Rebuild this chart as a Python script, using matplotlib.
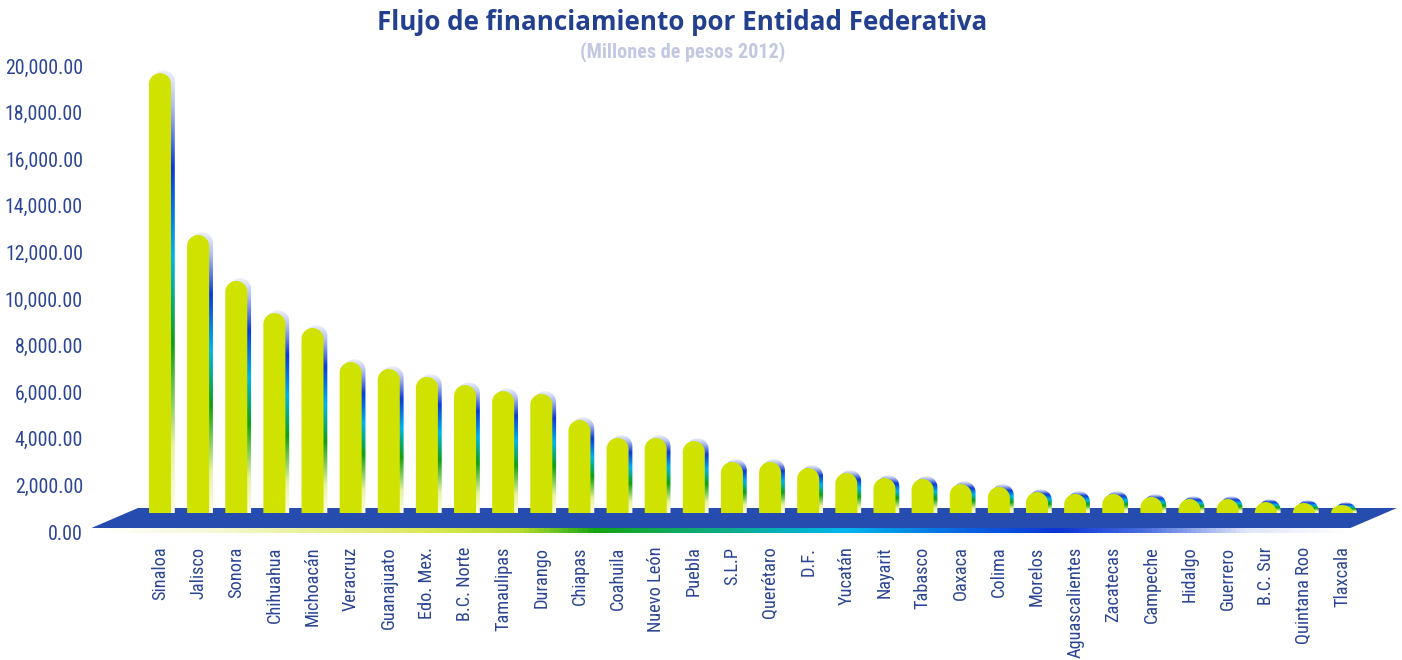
import matplotlib
matplotlib.use("Agg")
import matplotlib.pyplot as plt
import numpy as np
from matplotlib import font_manager
from matplotlib.colors import LinearSegmentedColormap
from matplotlib.patches import Polygon

# ============================================
# DATOS
# ============================================

estados = ["Sinaloa", "Jalisco", "Sonora", "Chihuahua", "Michoacán", "Veracruz",
           "Guanajuato", "Edo. Mex.", "B.C. Norte", "Tamaulipas", "Durango",
           "Chiapas", "Coahuila", "Nuevo León", "Puebla", "S.L.P", "Querétaro",
           "D.F.", "Yucatán", "Nayarit", "Tabasco", "Oaxaca", "Colima", "Morelos",
           "Aguascalientes", "Zacatecas", "Campeche", "Hidalgo", "Guerrero",
           "B.C. Sur", "Quintana Roo", "Tlaxcala"]

flujo = [18880, 11930, 9960, 8580, 7940, 6480, 6180, 5840, 5490, 5230, 5110,
         3990, 3220, 3220, 3090, 2190, 2190, 1930, 1720, 1500, 1460, 1240,
         1120, 900, 820, 820, 690, 600, 600, 470, 430, 340]

y_ticks = np.arange(0, 20001, 2000)

# ============================================
# ESTILO
# ============================================

available = {f.name for f in font_manager.fontManager.ttflist}


def pick(*names):
    for n in names:
        if n in available:
            return n
    return "DejaVu Sans"


narrow = pick("Liberation Sans Narrow", "Roboto Condensed", "DejaVu Sans")
title_font = pick("Open Sans", "Noto Sans", "Liberation Sans", "DejaVu Sans")

azul_texto = "#2b4594"
verde_barra = "#d0e300"
azul_piso = "#264caf"

side_cmap = LinearSegmentedColormap.from_list("lado", [
    (0.00, "#eef1fa"), (0.08, "#aebcec"), (0.22, "#0a3ad8"),
    (0.42, "#00b4ec"), (0.62, "#12a012"), (0.85, "#e6f3a0"), (1.00, "#fbfde4")])

strip_cmap = LinearSegmentedColormap.from_list("franja", [
    (0.00, "#ffffff"), (0.09, "#f6f9d8"), (0.26, "#dde95a"), (0.34, "#b8dc30"),
    (0.40, "#14a514"), (0.48, "#10aa70"), (0.60, "#00b6ee"), (0.70, "#0a60e0"),
    (0.77, "#0a34d4"), (0.84, "#4a6ee0"), (0.92, "#dfe5f8"), (1.00, "#ffffff")])

paso = 38.13        # px entre barras
base = 815          # altura del piso bajo las barras (profundidad 3D)
ancho = 0.577
cap = 472           # radio del tope redondeado en unidades de valor
dx, dy = 0.1, 120   # desplazamiento de la cara lateral
floor_back, floor_front = 1030, 172
sesgo = 1.22        # inclinacion del piso

# ============================================
# FIGURA
# ============================================

fig = plt.figure(figsize=(14.02, 6.6), dpi=100)
ax = fig.add_axes([90 / 1402, (660 - 532) / 660, (1402 - 90) / 1402, (532 - 66) / 660])
n = len(estados)


def contorno(x0, w, b, h, c):
    c = min(c, h)
    t = np.linspace(np.pi, 0, 40)
    xs = np.concatenate([[x0 - w / 2], x0 + w / 2 * np.cos(t), [x0 + w / 2]])
    ys = np.concatenate([[b], b + h - c + c * np.sin(t), [b]])
    return np.column_stack([xs, ys])


# piso
izq, der = -0.577, n + 0.44
piso = Polygon([(izq - sesgo, floor_front), (izq, floor_back),
                (der, floor_back), (der - sesgo, floor_front)],
               closed=True, facecolor=azul_piso, edgecolor="none", zorder=2)
ax.add_patch(piso)

# franja de color bajo el piso
franja = ax.imshow(np.linspace(0, 1, 400).reshape(1, -1), cmap=strip_cmap,
                   extent=(izq - sesgo, der - sesgo, -45, floor_front),
                   aspect="auto", zorder=1, interpolation="bilinear")
franja.set_clip_on(False)

grad = np.linspace(0, 1, 256).reshape(-1, 1)
for i, v in enumerate(flujo):
    lado = Polygon(contorno(i + dx, ancho, base, v + dy, cap), closed=True,
                   facecolor="none", edgecolor="none")
    ax.add_patch(lado)
    im = ax.imshow(grad, cmap=side_cmap, aspect="auto", zorder=3,
                   extent=(i + dx - ancho / 2, i + dx + ancho / 2, base, base + v + dy),
                   interpolation="bilinear")
    im.set_clip_path(lado)
    ax.add_patch(Polygon(contorno(i, ancho, base, v, cap), closed=True,
                         facecolor=verde_barra, edgecolor="none", zorder=4))

ax.set_xlim((90 - 160) / paso, (1402 - 160) / paso)
ax.set_ylim(0, 20000)

ax.set_yticks(y_ticks)
ax.set_yticklabels([f"{t:,.2f}" for t in y_ticks], fontfamily=narrow,
                   fontsize=14.3, color=azul_texto)
ax.set_xticks(range(n))
ax.set_xticklabels(estados, rotation=90, fontfamily=narrow, fontsize=13.2,
                   color=azul_texto)
ax.tick_params(axis="both", length=0)
ax.tick_params(axis="y", pad=5)
ax.tick_params(axis="x", pad=10.5)
for s in ax.spines.values():
    s.set_visible(False)
ax.patch.set_alpha(0)

fig.text(682 / 1402, 1 - 22 / 660, "Flujo de financiamiento por Entidad Federativa",
         ha="center", va="center", fontsize=18.7, fontweight="bold",
         color="#233f8f", fontfamily=title_font)
fig.text(683 / 1402, 1 - 52 / 660, "(Millones de pesos 2012)",
         ha="center", va="center", fontsize=14.5, fontweight="bold",
         color="#c2c8e2", fontfamily=narrow)

fig.savefig("out.png", dpi=100)
